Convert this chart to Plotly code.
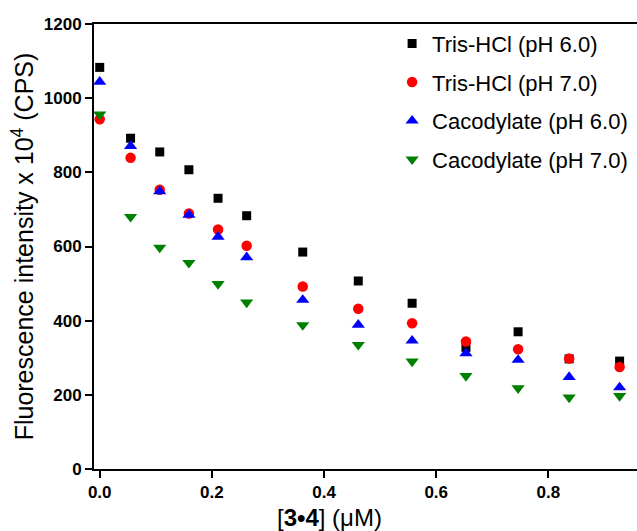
import plotly.graph_objects as go

# Concentration of the 3•4 complex (µM)
conc = [0, 0.055, 0.107, 0.159, 0.211, 0.262, 0.362, 0.461, 0.557, 0.653, 0.746, 0.837, 0.927]

# Fluorescence intensity (x 10^4 CPS) in each buffer
tris_ph6 = [1083, 892, 855, 807, 730, 683, 585, 507, 447, 328, 370, 297, 291]
tris_ph7 = [943, 839, 753, 689, 646, 602, 492, 432, 393, 344, 323, 298, 275]
caco_ph6 = [1044, 871, 749, 685, 626, 571, 456, 389, 346, 312, 294, 248, 220]
caco_ph7 = [956, 680, 597, 556, 499, 449, 388, 335, 290, 251, 218, 193, 197]

series = [
    ("Tris-HCl (pH 6.0)", tris_ph6, "square", "#000000", 9),
    ("Tris-HCl (pH 7.0)", tris_ph7, "circle", "#FF0000", 10.5),
    ("Cacodylate (pH 6.0)", caco_ph6, "triangle-up", "#0000FF", 11.5),
    ("Cacodylate (pH 7.0)", caco_ph7, "triangle-down", "#008000", 11.5),
]

FONT = "Arial, Liberation Sans, sans-serif"

fig = go.Figure()
for i, (name, vals, sym, col, size) in enumerate(series):
    fig.add_trace(go.Scatter(
        x=conc, y=vals, mode="markers", name=name,
        legendgroup=f"g{i}",
        marker=dict(symbol=sym, color=col, size=size, line=dict(width=0)),
    ))

axis_common = dict(
    showline=True, linecolor="black", linewidth=2,
    ticks="outside", ticklen=7, tickwidth=2, tickcolor="black",
    showgrid=False, zeroline=False,
    tickfont=dict(family=FONT, size=17, color="black", weight="bold"),
)

fig.update_layout(
    width=637, height=531,
    margin=dict(l=94, r=0, t=24, b=62),
    plot_bgcolor="white", paper_bgcolor="white",
    font=dict(family=FONT, color="black"),
    xaxis=dict(
        range=[-0.0102, 0.958], dtick=0.2, tick0=0, tickformat=".1f",
        mirror=True,
        **axis_common,
    ),
    yaxis=dict(
        range=[0, 1200], dtick=200, tick0=0,
        title=dict(text="Fluorescence intensity x 10<sup>4</sup> (CPS)", font=dict(size=25), standoff=3),
        **axis_common,
    ),
    legend=dict(
        x=0.549, y=1.003, xanchor="left", yanchor="top",
        font=dict(family=FONT, size=22, color="black"),
        bgcolor="rgba(0,0,0,0)", tracegroupgap=7,
    ),
    annotations=[dict(
        text="[<b>3•4</b>] (μM)", xref="paper", yref="paper",
        x=0.4346, y=-0.109, xanchor="center", yanchor="middle",
        showarrow=False, font=dict(family=FONT, size=24, color="black"),
    )],
)

fig.write_html("out.html")
